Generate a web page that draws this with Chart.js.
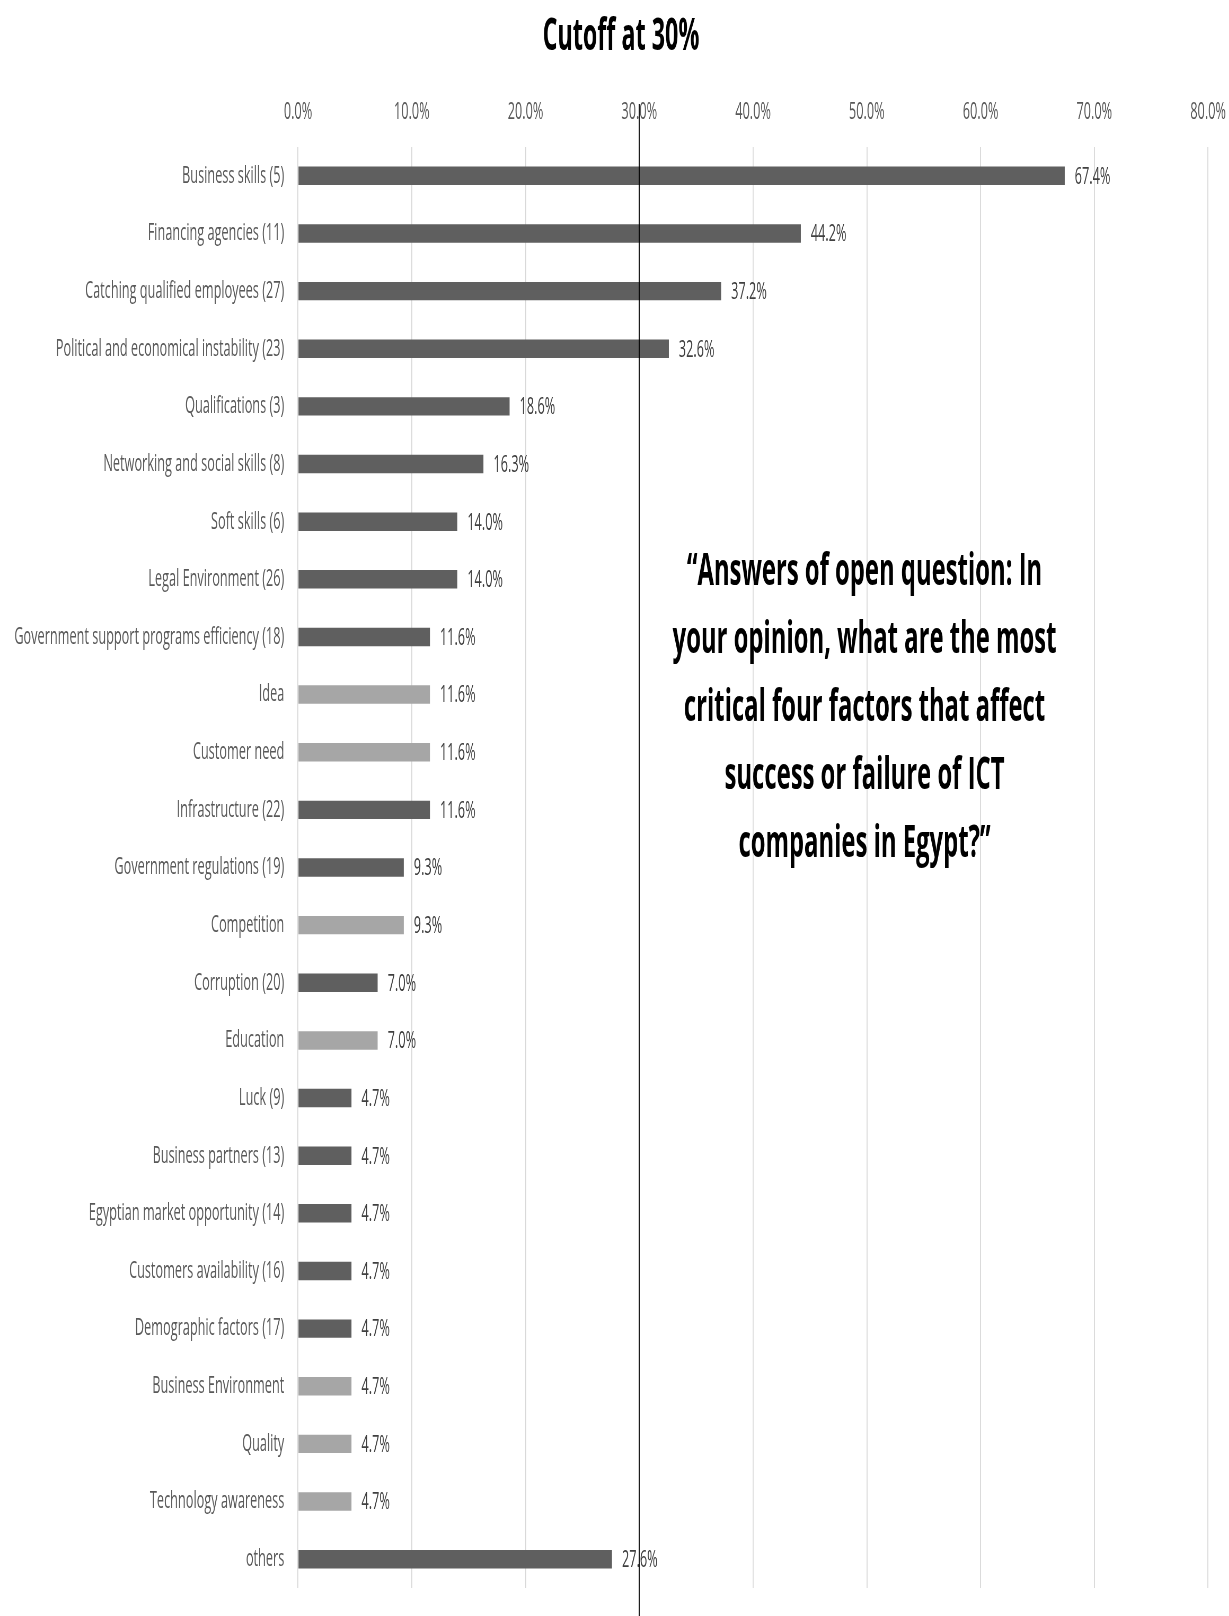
<!DOCTYPE html>
<html>
<head>
<meta charset="utf-8">
<script src="https://cdn.jsdelivr.net/npm/chart.js@4/dist/chart.umd.min.js"></script>
<style>
  html, body { margin: 0; padding: 0; background: #fff; overflow: hidden; }
  #factorsChart { display: block; transform-origin: 0 0; }
</style>
</head>
<body>
<canvas id="factorsChart"></canvas>
<script>
(function () {
    'use strict';

    var factors = [
        'Business skills (5)',
        'Financing agencies (11)',
        'Catching qualified employees (27)',
        'Political and economical instability (23)',
        'Qualifications (3)',
        'Networking and social skills (8)',
        'Soft skills (6)',
        'Legal Environment (26)',
        'Government support programs efficiency (18)',
        'Idea',
        'Customer need',
        'Infrastructure (22)',
        'Government regulations (19)',
        'Competition',
        'Corruption (20)',
        'Education',
        'Luck (9)',
        'Business partners (13)',
        'Egyptian market opportunity (14)',
        'Customers availability (16)',
        'Demographic factors (17)',
        'Business Environment',
        'Quality',
        'Technology awareness',
        'others'
    ];
    var shares = [67.4, 44.2, 37.2, 32.6, 18.6, 16.3, 14.0, 14.0, 11.6, 11.6, 11.6, 11.6,
        9.3, 9.3, 7.0, 7.0, 4.7, 4.7, 4.7, 4.7, 4.7, 4.7, 4.7, 4.7, 27.6];
    // answers that came up only in the open question (drawn lighter)
    var openAnswers = ['Idea', 'Customer need', 'Competition', 'Education',
        'Business Environment', 'Quality', 'Technology awareness'];
    var cutoff = 30;
    var axisMax = 80;
    var axisStep = 10;
    var titleText = 'Cutoff at 30%';
    var questionLines = [
        '\u201CAnswers of open question: In',
        'your opinion, what are the most',
        'critical four factors that affect',
        'success or failure of ICT',
        'companies in Egypt?\u201D'
    ];

    // the whole figure is drawn wide and squeezed horizontally
    var squeeze = 0.53;
    var W = Math.round(1229 / squeeze);
    var H = 1616;
    var plotLeft = 298 / squeeze;
    var plotTop = 147;
    var padRight = 21 / squeeze;

    var dark = '#5f5f5f';
    var light = '#a6a6a6';
    var font = '"Open Sans", "Liberation Sans", sans-serif';

    var el = document.getElementById('factorsChart');
    el.width = W;
    el.height = H;
    el.style.width = W + 'px';
    el.style.height = H + 'px';
    el.style.transform = 'scaleX(' + squeeze + ')';

    var overlay = {
        id: 'overlay',
        afterDatasetsDraw: function (chart) {
            var ctx = chart.ctx;
            var x = chart.scales.x;

            // value labels at the bar ends
            var meta = chart.getDatasetMeta(0);
            ctx.save();
            ctx.font = '24px ' + font;
            ctx.fillStyle = '#404040';
            ctx.textAlign = 'left';
            ctx.textBaseline = 'middle';
            meta.data.forEach(function (bar, i) {
                ctx.fillText(shares[i].toFixed(1) + '%', bar.x + 10 / squeeze, bar.y + 1);
            });
            ctx.restore();

            // cutoff line
            var cx = Math.round(x.getPixelForValue(cutoff));
            ctx.save();
            ctx.strokeStyle = '#000';
            ctx.lineWidth = 1 / squeeze;
            ctx.beginPath();
            ctx.moveTo(cx, 104);
            ctx.lineTo(cx, H);
            ctx.stroke();
            ctx.restore();

            // title
            ctx.save();
            ctx.font = 'bold 44px ' + font;
            ctx.fillStyle = '#000';
            ctx.textAlign = 'center';
            ctx.textBaseline = 'alphabetic';
            ctx.fillText(titleText, 621 / squeeze, 50);

            // question text
            ctx.font = 'bold 45px ' + font;
            var qx = x.getPixelForValue(49.8);
            questionLines.forEach(function (line, i) {
                ctx.fillText(line, qx, 585 + i * 68);
            });
            ctx.restore();
        }
    };

    new Chart(el.getContext('2d'), {
        type: 'bar',
        data: {
            labels: factors,
            datasets: [{
                data: shares,
                backgroundColor: factors.map(function (f) {
                    return openAnswers.indexOf(f) >= 0 ? light : dark;
                }),
                borderWidth: 0,
                categoryPercentage: 1,
                barPercentage: 0.32
            }]
        },
        options: {
            indexAxis: 'y',
            responsive: false,
            animation: false,
            layout: { padding: { left: 0, right: padRight, top: 0, bottom: 28 } },
            plugins: {
                legend: { display: false },
                tooltip: { enabled: false },
                title: { display: false }
            },
            scales: {
                x: {
                    position: 'top',
                    min: 0,
                    max: axisMax,
                    afterFit: function (s) {
                        s.height = plotTop;
                        s.paddingLeft = 0;
                        s.paddingRight = 0;
                    },
                    ticks: {
                        stepSize: axisStep,
                        padding: 20,
                        color: '#595959',
                        font: { family: font, size: 24 },
                        callback: function (v) { return v.toFixed(1) + '%'; }
                    },
                    grid: { color: '#d9d9d9', lineWidth: 1 / squeeze, drawTicks: false },
                    border: { display: false }
                },
                y: {
                    afterFit: function (s) {
                        s.width = plotLeft;
                        s.paddingTop = 0;
                        s.paddingBottom = 0;
                    },
                    ticks: {
                        padding: 9.5 / squeeze,
                        color: '#595959',
                        autoSkip: false,
                        font: { family: font, size: 24 }
                    },
                    grid: { display: false },
                    border: { display: false }
                }
            }
        },
        plugins: [overlay]
    });
})();
</script>
</body>
</html>
